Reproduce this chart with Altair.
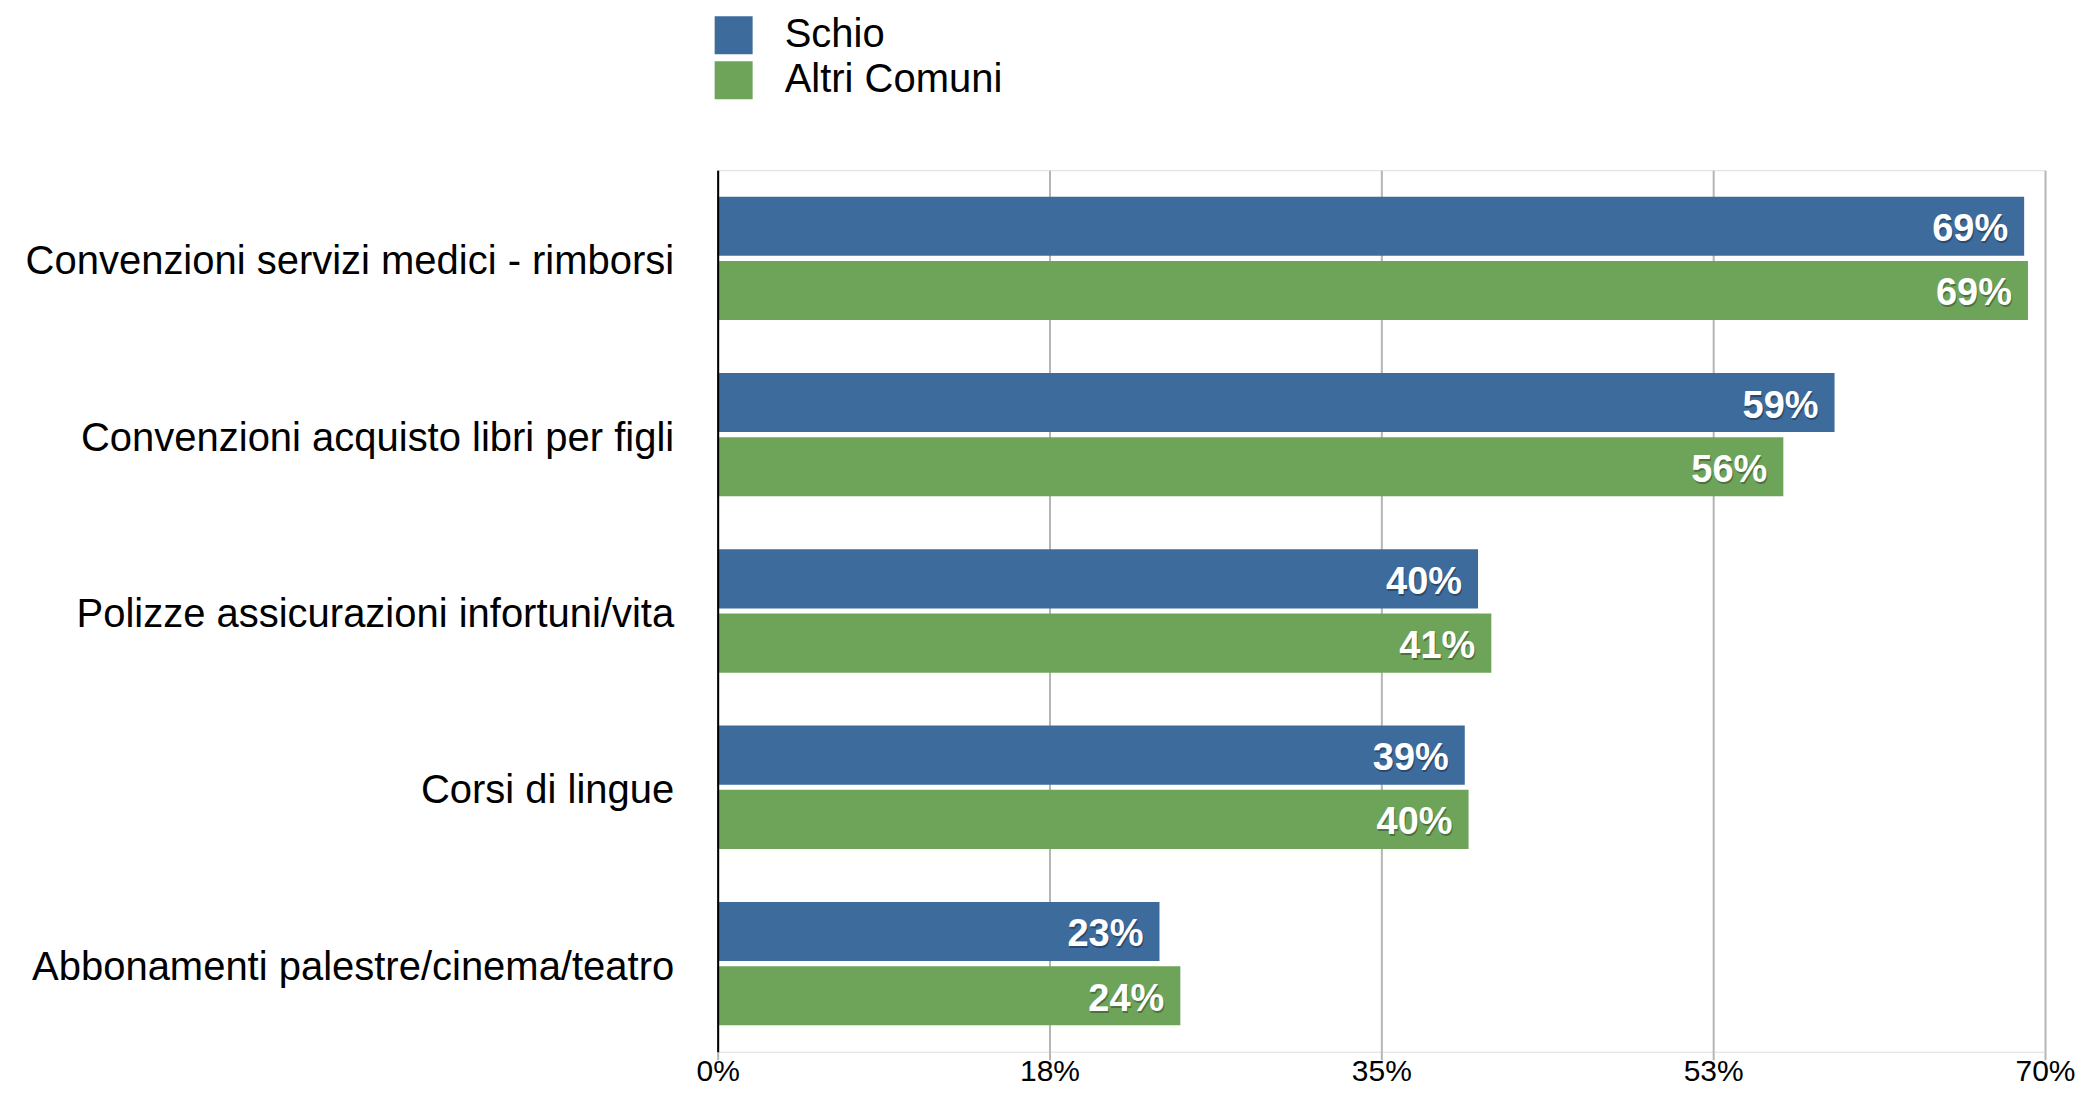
import altair as alt
import pandas as pd

categories = [
    "Convenzioni servizi medici - rimborsi",
    "Convenzioni acquisto libri per figli",
    "Polizze assicurazioni infortuni/vita",
    "Corsi di lingue",
    "Abbonamenti palestre/cinema/teatro",
]
series = ["Schio", "Altri Comuni"]
schio = [68.9, 58.9, 40.1, 39.4, 23.3]
altri = [69.1, 56.2, 40.8, 39.6, 24.4]
tick_values = [0, 17.5, 35, 52.5, 70]
colors = ["#3d6b9b", "#6ea459"]

rows = []
for c, a, b in zip(categories, schio, altri):
    rows.append({"cat": c, "serie": series[0], "value": a})
    rows.append({"cat": c, "serie": series[1], "value": b})
df = pd.DataFrame(rows)

FONT = "Liberation Sans"

y_enc = alt.Y(
    "cat:N",
    sort=categories,
    title=None,
    scale=alt.Scale(paddingInner=0.30, paddingOuter=0.15),
    axis=alt.Axis(
        labelFontSize=40,
        labelColor="#000000",
        labelFont=FONT,
        labelPadding=44,
        labelLimit=1000,
        labelOffset=4,
        ticks=False,
        domain=True,
        domainColor="#000000",
        domainWidth=2,
        grid=False,
        zindex=1,
    ),
)
yoff = alt.YOffset("serie:N", sort=series, scale=alt.Scale(paddingInner=0.08, paddingOuter=0))
x_enc = alt.X(
    "value:Q",
    title=None,
    scale=alt.Scale(domain=[0, 70], nice=False, zero=True),
    axis=alt.Axis(
        values=tick_values,
        labelExpr="format(datum.value, '.0f') + '%'",
        labelFontSize=30,
        labelFont=FONT,
        labelColor="#000000",
        labelPadding=-3,
        labelFlush=False,
        labelBaseline="top",
        domain=False,
        grid=True,
        gridColor="#b5b5b5",
        gridWidth=2,
        ticks=True,
        tickSize=8,
        tickColor="#b5b5b5",
        tickWidth=2,
        zindex=0,
    ),
)

bars = alt.Chart(df).mark_bar().encode(
    x=x_enc,
    y=y_enc,
    yOffset=yoff,
    color=alt.Color(
        "serie:N",
        sort=series,
        scale=alt.Scale(domain=series, range=colors),
        legend=alt.Legend(
            title=None,
            orient="none",
            legendX=-4,
            legendY=-155,
            symbolType="square",
            symbolSize=1444,
            symbolStrokeWidth=0,
            labelFontSize=40,
            labelFont=FONT,
            labelColor="#000000",
            labelLimit=1000,
            labelOffset=31,
            rowPadding=5,
            padding=0,
        ),
    ),
)

base_text = alt.Chart(df).transform_calculate(
    label="format(datum.value, '.0f') + '%'"
).encode(
    x=alt.X("value:Q"),
    y=alt.Y("cat:N", sort=categories),
    yOffset=alt.YOffset("serie:N", sort=series),
    text="label:N",
)

shadow = base_text.mark_text(
    align="right", baseline="middle", dx=-15, dy=6, fontSize=38, font=FONT,
    fontWeight="bold", color="#000000", opacity=0.3,
)
labels = base_text.mark_text(
    align="right", baseline="middle", dx=-16, dy=4, fontSize=38, font=FONT,
    fontWeight="bold", color="#ffffff",
)

chart = alt.layer(bars, shadow, labels).properties(
    width=1328,
    height=882,
    autosize=alt.AutoSizeParams(type="none"),
    padding={"left": 710, "top": 162, "right": 40, "bottom": 36},
).configure_view(stroke=None).configure(background="#ffffff")

chart.save("out.html", embed_options={"renderer": "svg", "actions": False})
